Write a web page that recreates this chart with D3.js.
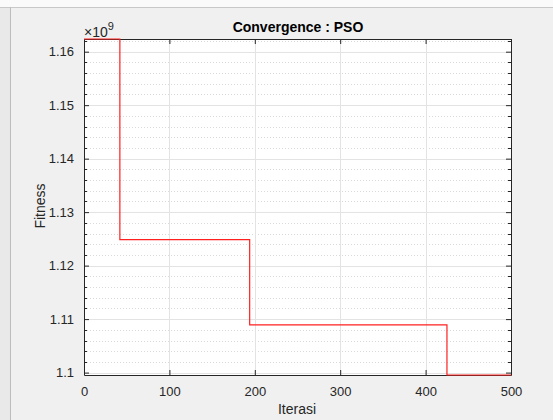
<!DOCTYPE html>
<html>
<head>
<meta charset="utf-8">
<script src="https://cdn.jsdelivr.net/npm/d3@7"></script>
<style>
  html, body { margin: 0; padding: 0; background: #f0f0f0; }
  svg { display: block; font-family: "Liberation Sans", Arial, Helvetica, sans-serif; }
</style>
</head>
<body>
<svg id="chart" width="553" height="420"></svg>
<script>
// iterasi saat nilai fitness terbaik berubah (skala 1e9)
var iterasi = [0, 42, 194, 425, 500];
var fitness = [1.16237, 1.12487, 1.10892, 1.09955, 1.09955];
var xTicks = [0, 100, 200, 300, 400, 500];
var yTicks = [1.10, 1.11, 1.12, 1.13, 1.14, 1.15, 1.16];
var yMinorStep = 0.002;

var svg = d3.select("#chart");
var W = 553, H = 420;
var m = { left: 84, right: 511, top: 39, bottom: 375 };
var axisCol = "#262626";

// bingkai jendela
svg.append("rect").attr("width", W).attr("height", H).attr("fill", "#f0f0f0");
svg.append("rect").attr("width", W).attr("height", 7).attr("fill", "#fafafa");
svg.append("rect").attr("y", 7).attr("width", 10).attr("height", H - 7).attr("fill", "#e9e9e9");
svg.append("line").attr("x1", 0).attr("x2", W).attr("y1", 7.5).attr("y2", 7.5).attr("stroke", "#c8c8c8");
svg.append("line").attr("x1", 10.5).attr("x2", 10.5).attr("y1", 7).attr("y2", H).attr("stroke", "#bdbdbd");

var x = d3.scaleLinear().domain([0, 500]).range([m.left, m.right]);
var y = d3.scaleLinear().domain([d3.min(fitness), d3.max(fitness)]).range([m.bottom, m.top]);

svg.append("rect")
  .attr("x", m.left).attr("y", m.top)
  .attr("width", m.right - m.left).attr("height", m.bottom - m.top)
  .attr("fill", "#ffffff");

// grid minor (dotted)
var minor = d3.range(1.098, 1.1624, yMinorStep).filter(function(v) {
  return Math.abs(Math.round(v * 100) - v * 100) > 1e-6 && v > y.domain()[0] && v < y.domain()[1];
});
svg.append("g").selectAll("line").data(minor).join("line")
  .attr("x1", m.left).attr("x2", m.right)
  .attr("y1", function(d) { return Math.round(y(d)) + 0.5; })
  .attr("y2", function(d) { return Math.round(y(d)) + 0.5; })
  .attr("stroke", "#dadada").attr("stroke-dasharray", "1,2");

// grid major
svg.append("g").selectAll("line").data(yTicks).join("line")
  .attr("x1", m.left).attr("x2", m.right)
  .attr("y1", function(d) { return Math.round(y(d)) + 0.5; })
  .attr("y2", function(d) { return Math.round(y(d)) + 0.5; })
  .attr("stroke", "#e3e3e3");
svg.append("g").selectAll("line").data(xTicks.slice(1, -1)).join("line")
  .attr("y1", m.top).attr("y2", m.bottom)
  .attr("x1", function(d) { return Math.round(x(d)) + 0.5; })
  .attr("x2", function(d) { return Math.round(x(d)) + 0.5; })
  .attr("stroke", "#e3e3e3");

// sumbu
function styleAxis(g) {
  g.selectAll("path").attr("stroke", axisCol).attr("stroke-width", 1);
  g.selectAll("line").attr("stroke", axisCol);
  g.selectAll("text").attr("fill", axisCol).attr("font-size", 13);
}
var fmtY = function(d) { return d3.format(".2f")(d).replace(/0$/, ""); };

svg.append("g").attr("transform", "translate(0," + m.bottom + ")")
  .call(d3.axisBottom(x).tickValues(xTicks).tickSizeInner(-5).tickSizeOuter(0).tickPadding(12))
  .call(styleAxis);
svg.append("g").attr("transform", "translate(0," + m.top + ")")
  .call(d3.axisTop(x).tickValues(xTicks).tickSizeInner(-5).tickSizeOuter(0).tickFormat(""))
  .call(styleAxis);
svg.append("g").attr("transform", "translate(" + m.left + ",0)")
  .call(d3.axisLeft(y).tickValues(yTicks).tickFormat(fmtY).tickSizeInner(-5).tickSizeOuter(0).tickPadding(10))
  .call(styleAxis);
svg.append("g").attr("transform", "translate(" + m.right + ",0)")
  .call(d3.axisRight(y).tickValues(yTicks).tickSizeInner(-5).tickSizeOuter(0).tickFormat(""))
  .call(styleAxis);
// minor ticks
[m.left, m.right].forEach(function(px) {
  var dir = px === m.left ? 1 : -1;
  svg.append("g").selectAll("line").data(minor).join("line")
    .attr("x1", px).attr("x2", px + dir * 3)
    .attr("y1", function(d) { return Math.round(y(d)) + 0.5; })
    .attr("y2", function(d) { return Math.round(y(d)) + 0.5; })
    .attr("stroke", axisCol);
});

// garis konvergensi
var pts = iterasi.map(function(d, i) { return [d, fitness[i]]; });
svg.append("path").datum(pts)
  .attr("fill", "none").attr("stroke", "#ff2020").attr("stroke-width", 1.2)
  .attr("d", d3.line().x(function(d) { return x(d[0]); }).y(function(d) { return y(d[1]); }).curve(d3.curveStepAfter));

// teks
svg.append("text").attr("x", 298).attr("y", 32).attr("text-anchor", "middle")
  .attr("font-size", 14).attr("font-weight", "bold").attr("fill", "#000").text("Convergence : PSO");
svg.append("text").attr("x", 297).attr("y", 414).attr("text-anchor", "middle")
  .attr("font-size", 14).attr("fill", axisCol).text("Iterasi");
svg.append("text").attr("transform", "translate(45,206) rotate(-90)").attr("text-anchor", "middle")
  .attr("font-size", 14).attr("fill", axisCol).text("Fitness");
var ex = svg.append("text").attr("x", 84).attr("y", 37).attr("font-size", 14).attr("fill", axisCol);
ex.append("tspan").text("\u00d710");
ex.append("tspan").attr("dy", -7).attr("font-size", 11).text("9");
</script>
</body>
</html>
